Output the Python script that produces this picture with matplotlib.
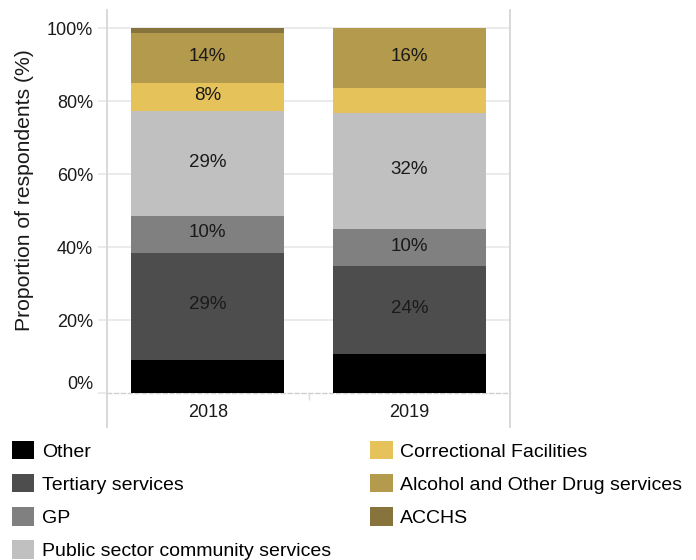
import numpy as np
import matplotlib
matplotlib.use("Agg")
import matplotlib.pyplot as plt
from matplotlib.transforms import ScaledTranslation

plt.rcParams['font.family'] = ['Liberation Sans', 'DejaVu Sans']

years = ["2018", "2019"]
series = ["Other", "Tertiary services", "GP", "Public sector community services",
          "Correctional Facilities", "Alcohol and Other Drug services", "ACCHS"]
other = [9.1, 10.8]
tertiary = [29.4, 24.1]
gp = [10.1, 10.1]
public = [28.7, 31.8]
correctional = [7.6, 6.8]
aod = [13.8, 16.4]
acchs = [1.3, 0.0]
colors = ["#000000", "#4d4d4d", "#808080", "#c0c0c0", "#e5c35a", "#b39a4d", "#86743c"]
# segments that carry a value label (min share shown)
labelled = [False, True, True, True, True, True, False]
min_label = 7.5

values = [other, tertiary, gp, public, correctional, aod, acchs]

fig = plt.figure(figsize=(6.96, 5.6), dpi=100)
ax = fig.add_axes([107 / 696, 1 - 427 / 560, 403 / 696, 417 / 560])

# spine position first: moving it rebuilds the ticks
for s in ["left", "right"]:
    ax.spines[s].set_color("#d6d6d6")
    ax.spines[s].set_linewidth(1.3)
ax.spines["top"].set_visible(False)
ax.spines["bottom"].set_position(("data", 0))
ax.spines["bottom"].set_linestyle((0, (3, 2)))
ax.spines["bottom"].set_color("#cfcfcf")
ax.spines["bottom"].set_linewidth(1)
ax.spines["bottom"].set_zorder(1)

x = np.arange(len(years))
bottom = np.zeros(len(years))
for name, vals, col, lab in zip(series, values, colors, labelled):
    vals = np.array(vals)
    ax.bar(x, vals, 0.757, bottom=bottom, color=col, label=name, zorder=2)
    if lab:
        for xi, b, v in zip(x, bottom, vals):
            if v >= min_label:
                ax.text(xi, b + v / 2 + 0.4, f"{v:.0f}%", ha="center", va="center",
                        fontsize=13.5, color="#1a1a1a", zorder=3)
    bottom += vals

ax.set_xlim(-0.5, len(years) - 0.5)
ax.set_ylim(-9.23, 105.0)

grid_col = "#e8e8e8"
yt = np.arange(0, 101, 20)
ax.set_yticks(yt)
ax.set_yticklabels([f"{v}%" for v in yt], fontsize=13, color="#1a1a1a")
for v in yt[1:]:
    ax.axhline(v, color=grid_col, lw=1.2, zorder=0)
ax.tick_params(axis="y", length=6.5, color=grid_col, width=1.2, pad=3.6)

ax.set_xticks(x)
ax.set_xticklabels(years, fontsize=13, color="#1a1a1a")
ax.set_xticks(x[:-1] + 0.5, minor=True)
ax.tick_params(axis="x", which="major", length=0, pad=7.7)
ax.tick_params(axis="x", which="minor", length=5, color="#dcdcdc", width=1)

# 0% label sits a little above the baseline
lab0 = ax.yaxis.get_major_ticks()[0].label1
lab0.set_transform(lab0.get_transform() + ScaledTranslation(0, 11 / 100, fig.dpi_scale_trans))

ax.set_ylabel("Proportion of respondents (%)", fontsize=15.2, color="#1a1a1a", va="center")
ax.yaxis.set_label_coords((25 - 107) / 403, (427 - 190) / 417)

fig.legend(loc="upper left", bbox_to_anchor=(12 / 696, 1 - 440.6 / 560), ncol=2,
           frameon=False, fontsize=14, borderpad=0, borderaxespad=0,
           handlelength=1.15, handleheight=1.1, handletextpad=0.4,
           labelspacing=0.68, columnspacing=2.0)

fig.savefig("out.png", dpi=100)
